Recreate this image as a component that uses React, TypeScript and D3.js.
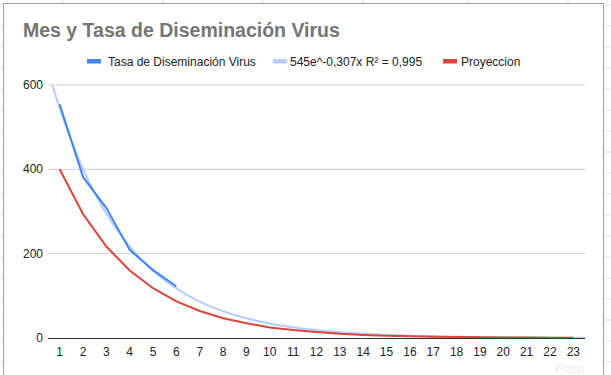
import React from "react";
import * as d3 from "d3";

const months = d3.range(1, 24).map(String);
const tasaValues = [554, 382, 308, 209, 161, 122];
const proyeccionValues = [400, 294, 217, 160, 118, 87, 64, 47, 35, 25, 19, 14, 10, 7.4, 5.5, 4, 3, 2.2, 1.6, 1.2, 0.9, 0.6, 0.5];
const yTicks = [0, 200, 400, 600];
const trendA = 545;
const trendB = -0.307;
const titleText = "Mes y Tasa de Diseminación Virus";
const legendLabels = ["Tasa de Diseminación Virus", "545e^-0,307x R² = 0,995", "Proyeccion"];

const W = 611, H = 375;
const BLUE = "#4285f4", LIGHT = "#b3cdfa", RED = "#db4437";

export default function App() {
  const x = d3.scalePoint<string>().domain(months).range([48, 585]).padding(0.5);
  const step = x.step();
  const xNum = (v: number) => (x("1") as number) + (v - 1) * step;
  const y = d3.scaleLinear().domain([0, 600]).range([338, 85]);

  const line = d3.line<number>().x((_, i) => x(months[i]) as number).y((d) => y(d));

  // trendline sampled across the plot domain, clipped at the top
  const tStart = 1 + Math.log(600 / trendA) / trendB;
  const tEnd = 23.5;
  const samples = d3.range(0, 201).map((k) => tStart + ((tEnd - tStart) * k) / 200);
  const trendPath = d3
    .line<number>()
    .x((t) => xNum(t))
    .y((t) => y(trendA * Math.exp(trendB * (t - 1))))(samples);

  const legendItems = [
    { label: legendLabels[0], color: BLUE, sx: 87, tx: 108 },
    { label: legendLabels[1], color: LIGHT, sx: 273, tx: 290 },
    { label: legendLabels[2], color: RED, sx: 443, tx: 461 },
  ];

  const cellCols = [63, 163, 263, 363, 468, 568];
  const cellRows = d3.range(5, 375, 21);

  return (
    <svg width={W} height={H} style={{ position: "absolute", left: 0, top: 0 }} fontFamily="'Liberation Sans', Arial, sans-serif">
      <rect width={W} height={H} fill="#fff" />
      {cellCols.map((c) => (
        <line key={"c" + c} x1={c} x2={c} y1={0} y2={3} stroke="#e2e2e2" />
      ))}
      {cellRows.map((r) => (
        <g key={"r" + r}>
          <line x1={0} x2={3} y1={r} y2={r} stroke="#e2e2e2" />
          <line x1={604} x2={611} y1={r} y2={r} stroke="#e2e2e2" />
        </g>
      ))}
      <rect x={3.5} y={3.5} width={600} height={380} fill="#fff" stroke="#9e9e9e" />

      <text x={23} y={37} fontSize={19.5} fontWeight="bold" fill="#757575">{titleText}</text>

      {legendItems.map((it) => (
        <g key={it.label}>
          <rect x={it.sx} y={59} width={14} height={4.5} fill={it.color} />
          <text x={it.tx} y={65.5} fontSize={12} fill="#222">{it.label}</text>
        </g>
      ))}

      {yTicks.map((t) => (
        <g key={t}>
          {t !== 0 && <line x1={48} x2={585} y1={y(t)} y2={y(t)} stroke="#cccccc" />}
          <text x={43} y={y(t) + 4} fontSize={12} textAnchor="end" fill="#222">{t}</text>
        </g>
      ))}

      <text x={570} y={373} fontSize={12} fill="#ececec" textAnchor="middle">Platzi</text>

      <path d={trendPath || ""} fill="none" stroke={LIGHT} strokeWidth={2} />
      <path d={line(tasaValues) || ""} fill="none" stroke={BLUE} strokeWidth={2} />
      <path d={line(proyeccionValues) || ""} fill="none" stroke={RED} strokeWidth={2} />

      <line x1={48} x2={585} y1={y(0) + 0.5} y2={y(0) + 0.5} stroke="#333" />
      {months.map((m) => (
        <text key={m} x={x(m) as number} y={356} fontSize={12} textAnchor="middle" fill="#222">{m}</text>
      ))}
    </svg>
  );
}
